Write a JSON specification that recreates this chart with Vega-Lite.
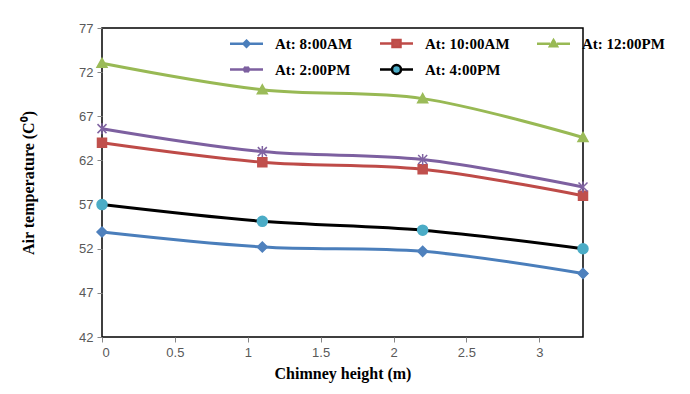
{
  "$schema": "https://vega.github.io/schema/vega-lite/v6.json",
  "autosize": {"type": "none"},
  "padding": {"left": 102, "top": 28, "right": 107, "bottom": 57},
  "width": 481,
  "height": 309,
  "background": "white",
  "config": {
    "view": {"stroke": "#000000", "strokeWidth": 1.5},
    "axis": {
      "labelFont": "Liberation Sans",
      "labelFontSize": 13,
      "labelColor": "#595959",
      "tickColor": "#868686",
      "tickSize": 5,
      "domain": false,
      "grid": false,
      "titleFont": "Liberation Serif",
      "titleFontSize": 16,
      "titleFontWeight": "bold",
      "titleColor": "#000000"
    },
    "legend": {
      "orient": "none",
      "legendX": 126,
      "legendY": 8,
      "direction": "horizontal",
      "columns": 3,
      "columnPadding": 22,
      "rowPadding": 8,
      "labelFont": "Liberation Serif",
      "labelFontSize": 15,
      "labelFontWeight": "bold",
      "labelColor": "#000000",
      "symbolSize": 100,
      "symbolStrokeWidth": 2.5,
      "symbolOffset": 11,
      "labelOffset": 21
    }
  },
  "data": {
    "values": [
      {"h": 0, "t": 53.9, "s": "At: 8:00AM"},
      {"h": 1.1, "t": 52.2, "s": "At: 8:00AM"},
      {"h": 2.2, "t": 51.7, "s": "At: 8:00AM"},
      {"h": 3.3, "t": 49.2, "s": "At: 8:00AM"},
      {"h": 0, "t": 64.0, "s": "At: 10:00AM"},
      {"h": 1.1, "t": 61.8, "s": "At: 10:00AM"},
      {"h": 2.2, "t": 61.0, "s": "At: 10:00AM"},
      {"h": 3.3, "t": 58.0, "s": "At: 10:00AM"},
      {"h": 0, "t": 73.0, "s": "At: 12:00PM"},
      {"h": 1.1, "t": 70.0, "s": "At: 12:00PM"},
      {"h": 2.2, "t": 69.0, "s": "At: 12:00PM"},
      {"h": 3.3, "t": 64.6, "s": "At: 12:00PM"},
      {"h": 0, "t": 65.6, "s": "At: 2:00PM"},
      {"h": 1.1, "t": 63.0, "s": "At: 2:00PM"},
      {"h": 2.2, "t": 62.1, "s": "At: 2:00PM"},
      {"h": 3.3, "t": 59.0, "s": "At: 2:00PM"},
      {"h": 0, "t": 57.0, "s": "At: 4:00PM"},
      {"h": 1.1, "t": 55.1, "s": "At: 4:00PM"},
      {"h": 2.2, "t": 54.1, "s": "At: 4:00PM"},
      {"h": 3.3, "t": 52.0, "s": "At: 4:00PM"}
    ]
  },
  "encoding": {
    "x": {
      "field": "h",
      "type": "quantitative",
      "scale": {"domain": [0, 3.3], "nice": false, "zero": false},
      "axis": {"values": [0, 0.5, 1, 1.5, 2, 2.5, 3], "format": "~g", "title": "Chimney height (m)", "titlePadding": 6, "labelPadding": 4}
    },
    "y": {
      "field": "t",
      "type": "quantitative",
      "scale": {"domain": [42, 77], "nice": false, "zero": false},
      "axis": {"values": [42, 47, 52, 57, 62, 67, 72, 77], "title": "Air temperature (C⁰)", "titlePadding": 42, "labelPadding": 4}
    },
    "fill": {
      "field": "s",
      "type": "nominal",
      "scale": {
        "domain": ["At: 8:00AM", "At: 10:00AM", "At: 12:00PM", "At: 2:00PM", "At: 4:00PM"],
        "range": ["#4F81BD", "#C0504D", "#9BBB59", "#8064A2", "#4BACC6"]
      },
      "legend": {"title": null}
    }
  },
  "layer": [
    {
      "mark": {"type": "line", "strokeWidth": 3, "interpolate": "catmull-rom"},
      "encoding": {
        "fill": {"value": null},
        "stroke": {
          "field": "s",
          "type": "nominal",
          "scale": {
            "domain": ["At: 8:00AM", "At: 10:00AM", "At: 12:00PM", "At: 2:00PM", "At: 4:00PM"],
            "range": ["#4A7EBB", "#BE4B48", "#98B954", "#7D60A0", "#000000"]
          },
          "legend": {"title": null}
        }
      }
    },
    {
      "mark": {"type": "point", "filled": true, "size": 0},
      "encoding": {
        "shape": {
          "field": "s",
          "type": "nominal",
          "scale": {
            "domain": ["At: 8:00AM", "At: 10:00AM", "At: 12:00PM", "At: 2:00PM", "At: 4:00PM"],
            "range": [
              "M-3.3,0H-0.6M0.6,0H3.3M0,-0.6L0.6,0L0,0.6L-0.6,0Z",
              "M-3.3,0H-0.8M0.8,0H3.3M-0.8,-0.7H0.8V0.7H-0.8Z",
              "M-3.3,0H-0.7M0.7,0H3.3M0,-0.7L0.7,0.5H-0.7Z",
              "M-3.3,0H3.3M-0.5,-0.5L0.5,0.5M-0.5,0.5L0.5,-0.5M0,-0.6V0.6",
              "M-3.3,0H-0.9M0.9,0H3.3M0.9,0A0.9,0.9,0,1,1,-0.9,0A0.9,0.9,0,1,1,0.9,0Z"
            ]
          },
          "legend": {"title": null}
        }
      }
    },
    {
      "transform": [{"filter": {"field": "s", "equal": "At: 8:00AM"}}],
      "mark": {"type": "point", "filled": true, "size": 100, "strokeWidth": 1.5, "opacity": 1, "shape": "M0,-1L1,0L0,1L-1,0Z", "stroke": {"expr": "scale('fill', datum.s)"}}
    },
    {
      "transform": [{"filter": {"field": "s", "equal": "At: 10:00AM"}}],
      "mark": {"type": "point", "filled": true, "size": 100, "strokeWidth": 1.5, "opacity": 1, "shape": "M-0.9,-0.9H0.9V0.9H-0.9Z", "stroke": {"expr": "scale('fill', datum.s)"}}
    },
    {
      "transform": [{"filter": {"field": "s", "equal": "At: 12:00PM"}}],
      "mark": {"type": "point", "filled": true, "size": 100, "strokeWidth": 1.5, "opacity": 1, "shape": "M0,-1L1,0.8H-1Z", "stroke": {"expr": "scale('fill', datum.s)"}}
    },
    {
      "transform": [{"filter": {"field": "s", "equal": "At: 2:00PM"}}],
      "mark": {"type": "point", "filled": true, "size": 100, "strokeWidth": 1.5, "opacity": 1, "shape": "M-0.9,-0.9L0.9,0.9M-0.9,0.9L0.9,-0.9M0,-1.1V1.1", "stroke": {"expr": "scale('fill', datum.s)"}}
    },
    {
      "transform": [{"filter": {"field": "s", "equal": "At: 4:00PM"}}],
      "mark": {"type": "point", "filled": true, "size": 100, "strokeWidth": 1.5, "opacity": 1, "shape": "M1,0A1,1,0,1,1,-1,0A1,1,0,1,1,1,0Z", "stroke": {"expr": "scale('fill', datum.s)"}}
    }
  ]
}
